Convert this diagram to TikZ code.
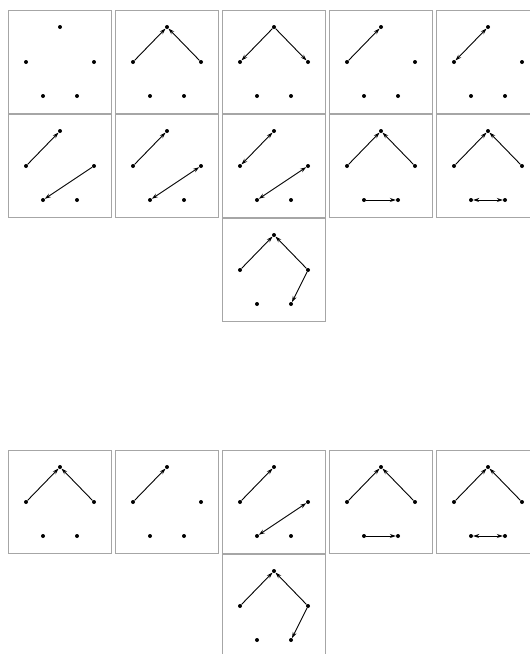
\documentclass[tikz,border=0pt]{standalone}
\usepackage{xcolor}
\usepackage{tikz}
\usetikzlibrary{arrows.meta}

% one panel: frame and five dots a..e
\newcommand{\dotpanel}[3]{%
  \node[frame] (#1) at (#2+51.5,#3+51.5) {};
  \node[pt] (#1a) at (#2+52,#3+17) {};
  \node[pt] (#1b) at (#2+18,#3+52) {};
  \node[pt] (#1c) at (#2+86,#3+52) {};
  \node[pt] (#1d) at (#2+35,#3+86) {};
  \node[pt] (#1e) at (#2+69,#3+86) {};
}

\begin{document}
\begin{tikzpicture}[
  x=1pt, y=-1pt,
  frame/.style={draw=black!35, line width=1pt, minimum width=103pt, minimum height=103pt, inner sep=0pt, fill=white},
  pt/.style={circle, fill=black, inner sep=0pt, minimum size=4pt},
  arr/.style={-{Stealth[length=6pt, width=4pt]}, line width=0.9pt, black},
  dbl/.style={{Stealth[length=6pt, width=4pt]}-{Stealth[length=6pt, width=4pt]}, line width=0.9pt, black}
]
\useasboundingbox (0,0) rectangle (530,654);

% upper group
\dotpanel{u1}{8}{10}
\dotpanel{u2}{115}{10}
\dotpanel{u3}{222}{10}
\dotpanel{u4}{329}{10}
\dotpanel{u5}{436}{10}
\dotpanel{u6}{8}{114}
\dotpanel{u7}{115}{114}
\dotpanel{u8}{222}{114}
\dotpanel{u9}{329}{114}
\dotpanel{u10}{436}{114}
\dotpanel{u11}{222}{218}

\draw[arr] (u2b) -- (u2a);
\draw[arr] (u2c) -- (u2a);
\draw[arr] (u3a) -- (u3b);
\draw[arr] (u3a) -- (u3c);
\draw[arr] (u4b) -- (u4a);
\draw[dbl] (u5b) -- (u5a);
\draw[arr] (u6b) -- (u6a);
\draw[arr] (u6c) -- (u6d);
\draw[arr] (u7b) -- (u7a);
\draw[dbl] (u7d) -- (u7c);
\draw[dbl] (u8b) -- (u8a);
\draw[dbl] (u8d) -- (u8c);
\draw[arr] (u9b) -- (u9a);
\draw[arr] (u9c) -- (u9a);
\draw[arr] (u9d) -- (u9e);
\draw[arr] (u10b) -- (u10a);
\draw[arr] (u10c) -- (u10a);
\draw[dbl] (u10d) -- (u10e);
\draw[arr] (u11b) -- (u11a);
\draw[arr] (u11c) -- (u11a);
\draw[arr] (u11c) -- (u11e);

% lower group
\dotpanel{l1}{8}{450}
\dotpanel{l2}{115}{450}
\dotpanel{l3}{222}{450}
\dotpanel{l4}{329}{450}
\dotpanel{l5}{436}{450}
\dotpanel{l6}{222}{554}

\draw[arr] (l1b) -- (l1a);
\draw[arr] (l1c) -- (l1a);
\draw[arr] (l2b) -- (l2a);
\draw[arr] (l3b) -- (l3a);
\draw[dbl] (l3d) -- (l3c);
\draw[arr] (l4b) -- (l4a);
\draw[arr] (l4c) -- (l4a);
\draw[arr] (l4d) -- (l4e);
\draw[arr] (l5b) -- (l5a);
\draw[arr] (l5c) -- (l5a);
\draw[dbl] (l5d) -- (l5e);
\draw[arr] (l6b) -- (l6a);
\draw[arr] (l6c) -- (l6a);
\draw[arr] (l6c) -- (l6e);
\end{tikzpicture}
\end{document}
